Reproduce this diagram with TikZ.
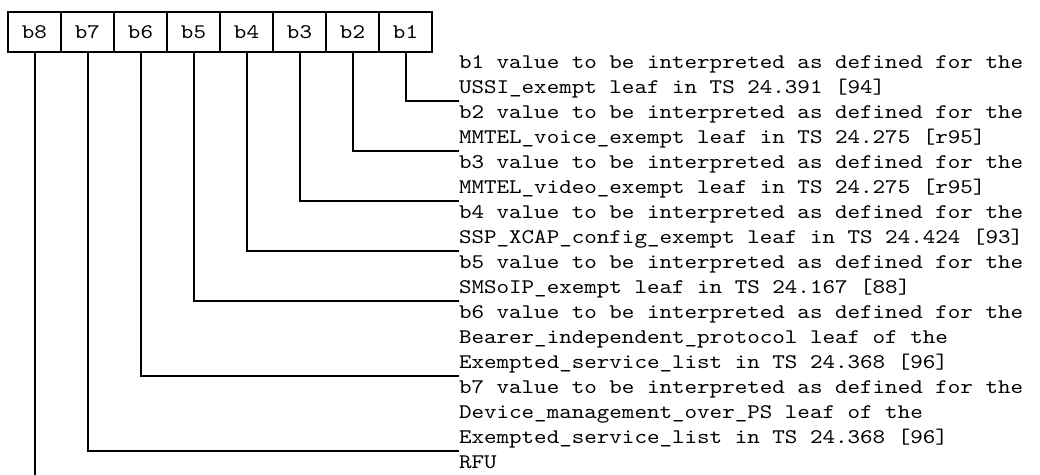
\documentclass[tikz,border=0pt]{standalone}
\usepackage{fontspec}
\setmonofont{lmmono10-regular}[Extension=.otf, FakeStretch=1.148]
\usetikzlibrary{positioning}
\tikzset{
  bitbox/.style={rectangle, draw, line width=1pt, outer sep=0pt, inner sep=0pt,
                 minimum width=26.5pt, minimum height=20pt,
                 font=\ttfamily\fontsize{10.4}{12.5}\selectfont},
  desc/.style={anchor=north west, align=left, inner sep=0pt, outer sep=0pt,
               font=\ttfamily\fontsize{10.4}{12.5}\selectfont},
  lead/.style={line width=1pt},
}

\begin{document}
\begin{tikzpicture}[x=0.5pt, y=-0.5pt]
    \useasboundingbox (0,0) rectangle (1040,475);

    % octet
    \node[bitbox, anchor=north west] (b8) at (8,12) {b8};
    \node[bitbox, right=0pt of b8] (b7) {b7};
    \node[bitbox, right=0pt of b7] (b6) {b6};
    \node[bitbox, right=0pt of b6] (b5) {b5};
    \node[bitbox, right=0pt of b5] (b4) {b4};
    \node[bitbox, right=0pt of b4] (b3) {b3};
    \node[bitbox, right=0pt of b3] (b2) {b2};
    \node[bitbox, right=0pt of b2] (b1) {b1};

    % bit meanings (struts on first and last line keep every line 12.5pt high)
    \node[desc] (t1) at (459,51.5) {\strut b1 value to be interpreted as defined for the\\USSI\_exempt leaf in TS 24.391 [94]\strut};
    \node[desc] (t2) at (t1.south west) {\strut b2 value to be interpreted as defined for the\\MMTEL\_voice\_exempt leaf in TS 24.275 [r95]\strut};
    \node[desc] (t3) at (t2.south west) {\strut b3 value to be interpreted as defined for the\\MMTEL\_video\_exempt leaf in TS 24.275 [r95]\strut};
    \node[desc] (t4) at (t3.south west) {\strut b4 value to be interpreted as defined for the\\SSP\_XCAP\_config\_exempt leaf in TS 24.424 [93]\strut};
    \node[desc] (t5) at (t4.south west) {\strut b5 value to be interpreted as defined for the\\SMSoIP\_exempt leaf in TS 24.167 [88]\strut};
    \node[desc] (t6) at (t5.south west) {\strut b6 value to be interpreted as defined for the\\Bearer\_independent\_protocol leaf of the\\Exempted\_service\_list in TS 24.368 [96]\strut};
    \node[desc] (t7) at (t6.south west) {\strut b7 value to be interpreted as defined for the\\Device\_management\_over\_PS leaf of the\\Exempted\_service\_list in TS 24.368 [96]\strut};
    \node[desc] (rfu) at (t7.south west) {\strut RFU};

    \draw[lead] (b1.south) |- (t1.south west);
    \draw[lead] (b2.south) |- (t2.south west);
    \draw[lead] (b3.south) |- (t3.south west);
    \draw[lead] (b4.south) |- (t4.south west);
    \draw[lead] (b5.south) |- (t5.south west);
    \draw[lead] (b6.south) |- (t6.south west);
    \draw[lead] (b7.south) |- (t7.south west);
    \draw[lead] (b8.south) -- (b8.south |- rfu.south);
\end{tikzpicture}
\end{document}
